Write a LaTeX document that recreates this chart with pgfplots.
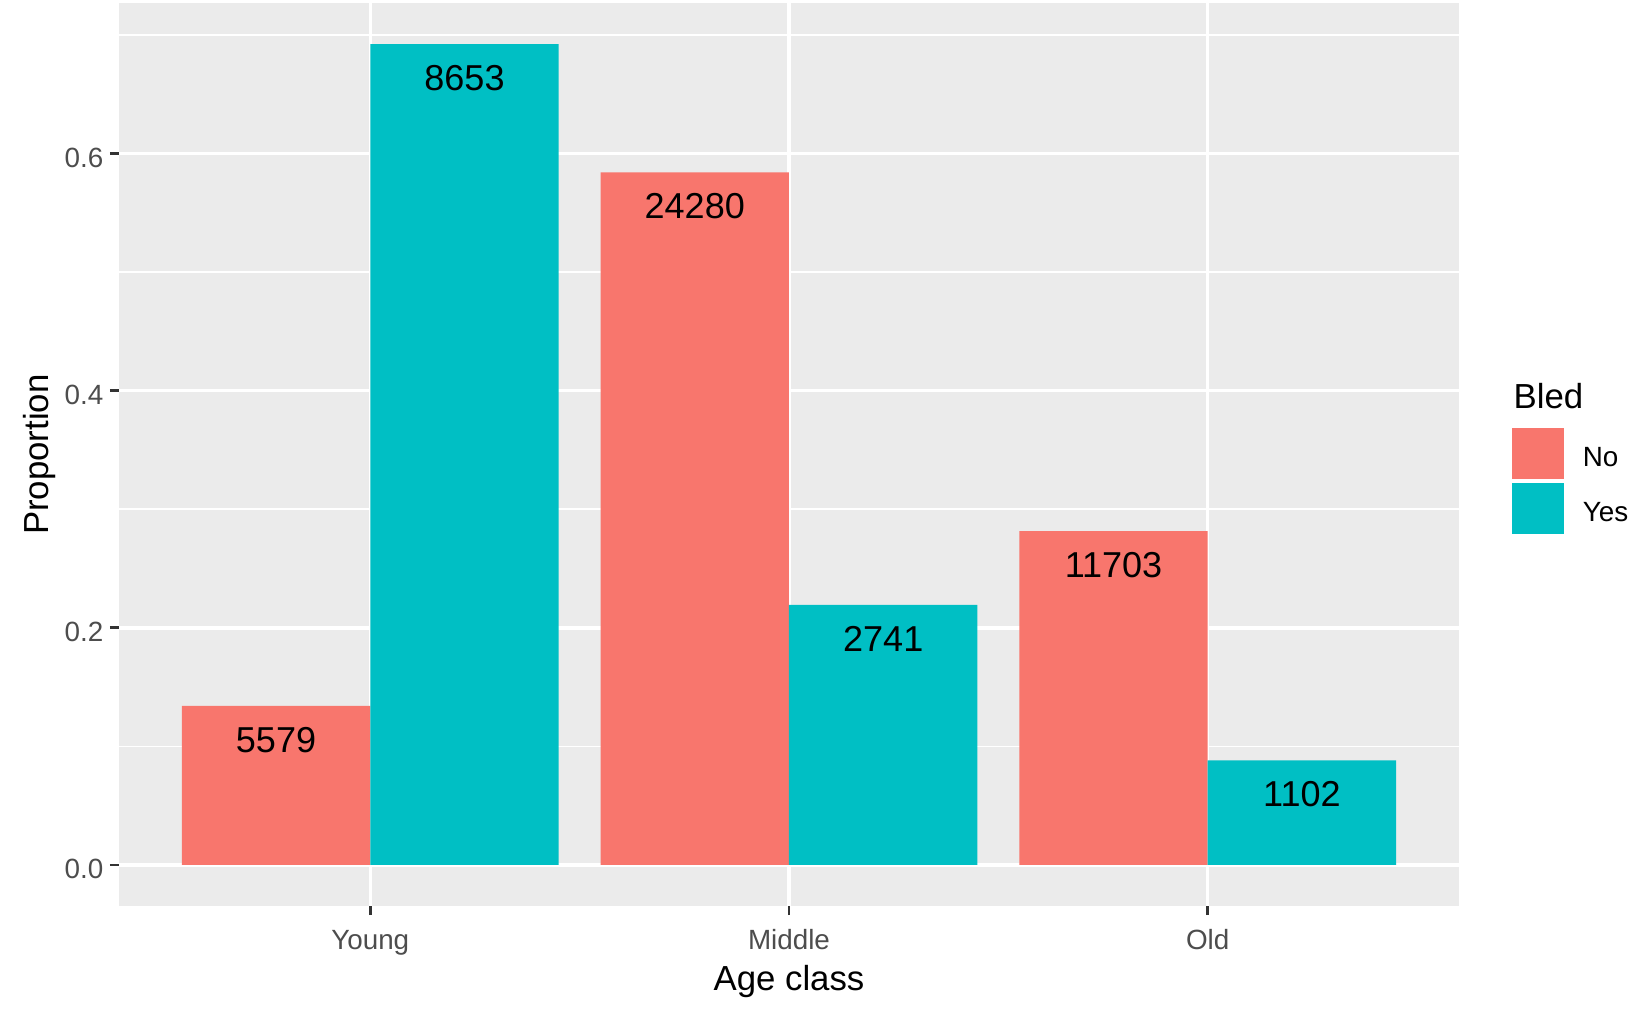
\documentclass[border=0pt]{standalone}
\usepackage{fontspec}
\setmainfont{Liberation Sans}
\usepackage{pgfplots}
\pgfplotsset{compat=1.18}
\definecolor{cNo}{HTML}{F8766D}
\definecolor{cYes}{HTML}{00BFC4}
\definecolor{panelbg}{HTML}{EBEBEB}
\definecolor{gray30}{HTML}{4D4D4D}
\definecolor{gray20}{HTML}{333333}
\begin{document}
\begin{tikzpicture}
\useasboundingbox (-37.65pt,-35.44pt) rectangle (484.35pt,286.62pt);
\begin{axis}[
  at={(0pt,0pt)}, anchor=south west,
  scale only axis, width=423.92pt, height=285.67pt,
  xmin=0.4, xmax=3.6, ymin=-0.0346, ymax=0.7271,
  axis background/.style={fill=panelbg},
  axis line style={draw=none},
  xtick={1,2,3}, xticklabels={Young,Middle,Old},
  ytick={0,0.2,0.4,0.6}, yticklabels={0.0,0.2,0.4,0.6},
  minor ytick={0.1,0.3,0.5,0.7},
  tick pos=left, tick align=outside,
  major tick length=2.85pt, minor tick length=0pt,
  major tick style={draw=gray20, line width=0.9pt},
  minor tick style={draw=none},
  grid=both,
  major grid style={draw=white, line width=1.07pt},
  minor grid style={draw=white, line width=0.53pt},
  xticklabel style={font=\fontsize{8.8}{10}\selectfont, text=gray30, anchor=base, inner sep=0pt, yshift=-11.05pt},
  yticklabel style={font=\fontsize{8.8}{10}\selectfont, text=gray30, anchor=east, inner sep=0pt, xshift=-1.9pt, yshift=-1.2pt},
  /pgf/number format/assume math mode=true,
  point meta=explicit symbolic,
  nodes near coords,
  nodes near coords style={font=\fontsize{11.4}{13}\selectfont, text=black, anchor=center, inner sep=0pt, yshift=-10.8pt},
  legend style={at={(1.0396,0.5294)}, anchor=north west, draw=none, fill=none,
    inner sep=0pt, outer sep=0pt, row sep=1.3pt, column sep=6pt,
    nodes={inner sep=0pt, font=\fontsize{8.8}{10}\selectfont, text=black},
    cells={anchor=west}},
  legend image code/.code={\fill[#1,draw=none] (0pt,-6.1pt) rectangle (16.4pt,10.0pt);},
]
\addplot[ybar, bar width=0.45, bar shift=-0.225, fill=cNo, draw=none,
  every node near coord/.append style={xshift=-29.81pt}]
  coordinates {(1,0.1342) [5579] (2,0.5842) [24280] (3,0.2816) [11703]};
\addlegendentry{No}
\addplot[ybar, bar width=0.45, bar shift=0.225, fill=cYes, draw=none,
  every node near coord/.append style={xshift=29.81pt}]
  coordinates {(1,0.6925) [8653] (2,0.2193) [2741] (3,0.0882) [1102]};
\addlegendentry{Yes}
\end{axis}
\node[anchor=base, font=\fontsize{11}{13}\selectfont] at (211.96pt,-26.58pt) {Age class};
\node[anchor=base, rotate=90, font=\fontsize{11}{13}\selectfont] at (-22.46pt,142.8pt) {Proportion};
\node[anchor=base west, inner sep=0pt, font=\fontsize{11}{13}\selectfont] at (441.0pt,157.54pt) {Bled};
\end{tikzpicture}
\end{document}
